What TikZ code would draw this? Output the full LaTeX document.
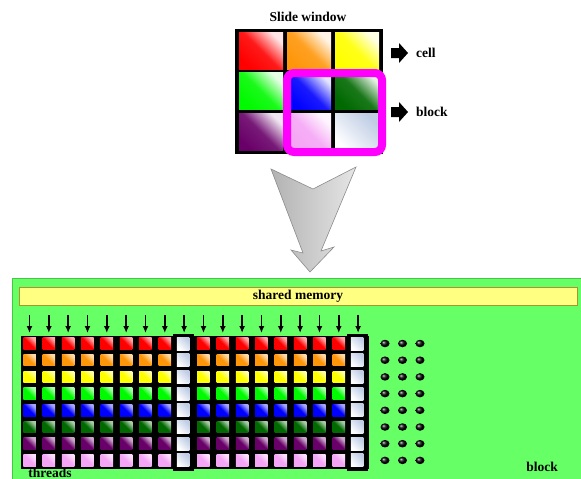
\documentclass[tikz,border=0pt]{standalone}
\usepackage{fontspec}
\setmainfont{Liberation Serif}
\usetikzlibrary{arrows.meta,shapes.geometric}
\definecolor{cRed}{RGB}{255,0,0}
\definecolor{cOrange}{RGB}{255,150,10}
\definecolor{cYellow}{RGB}{255,255,0}
\definecolor{cGreen}{RGB}{0,250,0}
\definecolor{cBlue}{RGB}{0,0,255}
\definecolor{cDkGreen}{RGB}{0,105,0}
\definecolor{cPurple}{RGB}{105,0,105}
\definecolor{cPink}{RGB}{245,165,245}
\definecolor{cPale}{RGB}{190,204,228}
\definecolor{bgGreen}{RGB}{102,255,102}
\definecolor{bgGreenEdge}{RGB}{70,200,70}
\definecolor{barYellow}{RGB}{255,255,130}
\definecolor{barEdge}{RGB}{170,150,40}
\definecolor{magentaFrame}{RGB}{255,0,255}
\tikzset{
  glossy/.style={shading=axis, bottom color=#1, top color=#1!10!white,
                 middle color=#1!90!white, shading angle=-45},
  smallglossy/.style={shading=axis, bottom color=#1, top color=#1!35!white,
                 middle color=#1, shading angle=-45},
  paleglossy/.style={shading=axis, bottom color=white, top color=cPale,
                 shading angle=-45},
  wincell/.style={rectangle, inner sep=0pt, minimum width=44pt, minimum height=37pt},
  smallsq/.style={rectangle, inner sep=0pt, minimum width=12.5pt, minimum height=11.5pt},
  label/.style={font=\bfseries\fontsize{13.5}{15}\selectfont, inner sep=0pt},
  tharrow/.style={line width=1.6pt, -{Latex[length=7pt,width=6pt]}},
  dotball/.style={ellipse, inner sep=0pt, minimum width=9pt, minimum height=7.5pt,
                  ball color=black},
}
\begin{document}
\begin{tikzpicture}[x=1pt,y=-1pt]
\useasboundingbox (0,0) rectangle (581,479);
\fill[white] (0,0) rectangle (581,479);

% ---- sliding window ----
\node[label] (title) at (308,17) {Slide window};
\fill[black] (235,29) rectangle (383,154);
\node[wincell, glossy=cRed]    (w11) at (261,50.5) {};
\node[wincell, glossy=cOrange] (w12) at (309,50.5) {};
\node[wincell, glossy=cYellow] (w13) at (357,50.5) {};
\node[wincell, glossy=cGreen]  (w21) at (261,91) {};
\node[wincell, glossy=cBlue]   (w22) at (309,91) {};
\node[wincell, glossy=cDkGreen](w23) at (357,91) {};
\node[wincell, glossy=cPurple] (w31) at (261,132) {};
\node[wincell, glossy=cPink]   (w32) at (309,132) {};
\node[wincell, paleglossy]     (w33) at (357,132) {};
% block frame
\draw[magentaFrame, line width=8pt, rounded corners=7pt] (287,73) rectangle (382,152);

% pointer arrows with labels
\fill[black] (391,48) -- (399,48) -- (399,43) -- (408,53) -- (399,63) -- (399,58) -- (391,58) -- cycle;
\node[label, anchor=west] (lcell) at (416,53) {cell};
\fill[black] (391,107) -- (399,107) -- (399,102) -- (408,112) -- (399,122) -- (399,117) -- (391,117) -- cycle;
\node[label, anchor=west] (lblock) at (416,112) {block};

% big down arrow
\shade[left color=black!30, right color=black!10, draw=black!45, line width=0.6pt]
  (271,169) -- (313,189) -- (356,167) -- (321,251) -- (334,247) -- (310,272)
  -- (291,250) -- (303,253) -- cycle;

% ---- thread block ----
\path[fill=bgGreen, draw=bgGreenEdge, line width=1pt] (12,278) rectangle (595,495);
\path[fill=barYellow, draw=barEdge, line width=0.6pt] (19,287) rectangle (577,305);
\node[label] (shm) at (298,296) {shared memory};

% thread grid
\fill[black] (20.5,335.5) rectangle (369,469);
\foreach \i in {8,17}
  \fill[black] ({29.5+19.33*\i-11},333.5) rectangle ({29.5+19.33*\i+10},471);

\foreach \col [count=\j from 0] in {cRed,cOrange,cYellow,cGreen,cBlue,cDkGreen,cPurple,cPink} {
  \foreach \i in {0,...,7,9,10,...,16}
    \node[smallsq, smallglossy=\col] (s-\i-\j) at ({29.5+19.33*\i},{343.5+16.7*\j}) {};
  \foreach \i in {8,17}
    \node[smallsq, minimum height=13pt, paleglossy] (s-\i-\j) at ({29.5+19.33*\i-1},{343.5+16.7*\j}) {};
  \foreach \k/\x in {0/385,1/402.5,2/420}
    \node[dotball] (d-\k-\j) at (\x,{343.5+16.7*\j}) {};
}

% thread arrows
\foreach \i in {0,...,17} {
  \coordinate (ta\i) at ({29.5+19.33*\i},315);
  \coordinate (tb\i) at ({29.5+19.33*\i},333);
  \draw[tharrow] (ta\i) -- (tb\i);
}

\node[label] (thr) at (50,472.5) {threads};
\node[label] (blk) at (542,467) {block};
\end{tikzpicture}
\end{document}
